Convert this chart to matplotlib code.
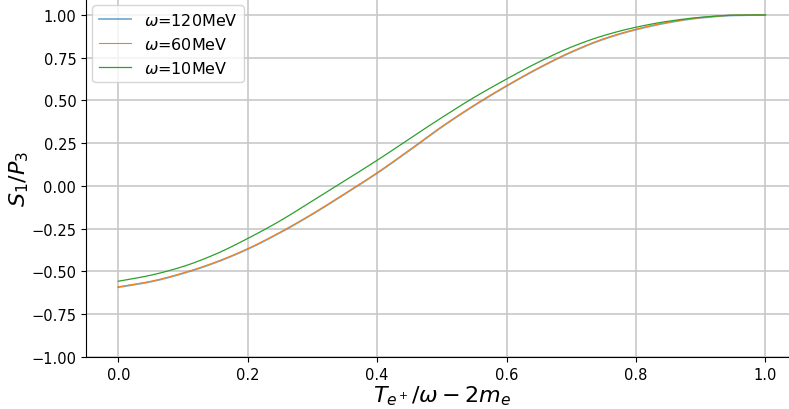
import matplotlib
matplotlib.use("Agg")
import matplotlib.pyplot as plt
import numpy as np

# Positron kinetic-energy fraction
x = [0.00, 0.05, 0.10, 0.15, 0.20, 0.25, 0.30, 0.35, 0.40, 0.45, 0.50,
     0.55, 0.60, 0.65, 0.70, 0.75, 0.80, 0.85, 0.90, 0.95, 1.00]

# S1/P3 for each photon energy
s_120 = [-0.592, -0.560, -0.511, -0.448, -0.369, -0.273, -0.165, -0.047,
         0.075, 0.208, 0.345, 0.470, 0.584, 0.689, 0.782, 0.858, 0.914,
         0.955, 0.983, 0.997, 1.000]
s_60 = [-0.590, -0.558, -0.509, -0.446, -0.367, -0.271, -0.163, -0.045,
        0.077, 0.210, 0.347, 0.472, 0.586, 0.691, 0.784, 0.860, 0.916,
        0.957, 0.984, 0.998, 1.000]
s_10 = [-0.557, -0.522, -0.471, -0.399, -0.307, -0.204, -0.087, 0.031,
        0.150, 0.276, 0.400, 0.518, 0.625, 0.725, 0.812, 0.879, 0.928,
        0.963, 0.986, 0.998, 1.000]

labels = [r"$\omega$=120MeV", r"$\omega$=60MeV", r"$\omega$=10MeV"]


def smooth_path(xs, ys, n=400):
    """Monotone cubic Hermite curve through the given points."""
    xs = np.asarray(xs, float)
    ys = np.asarray(ys, float)
    h = np.diff(xs)
    d = np.diff(ys) / h
    m = np.zeros_like(ys)
    m[0], m[-1] = d[0], d[-1]
    for i in range(1, len(xs) - 1):
        if d[i - 1] * d[i] <= 0:
            m[i] = 0.0
        else:
            w1 = 2 * h[i] + h[i - 1]
            w2 = h[i] + 2 * h[i - 1]
            m[i] = (w1 + w2) / (w1 / d[i - 1] + w2 / d[i])
    xf = np.linspace(xs[0], xs[-1], n)
    k = np.clip(np.searchsorted(xs, xf) - 1, 0, len(xs) - 2)
    t = (xf - xs[k]) / h[k]
    h00 = 2 * t**3 - 3 * t**2 + 1
    h10 = t**3 - 2 * t**2 + t
    h01 = -2 * t**3 + 3 * t**2
    h11 = t**3 - t**2
    yf = h00 * ys[k] + h10 * h[k] * m[k] + h01 * ys[k + 1] + h11 * h[k] * m[k + 1]
    return xf, yf


fig = plt.figure(figsize=(7.89, 4.10), dpi=100)
ax = fig.add_axes([86 / 789, 52 / 410, 711.7 / 789, 358 / 410])

ax.plot(*smooth_path(x, s_120), color="#1f77b4", lw=1.3, alpha=0.6, label=labels[0])
ax.plot(*smooth_path(x, s_60), color="#ff7f0e", lw=0.8, label=labels[1])
ax.plot(*smooth_path(x, s_10), color="#2ca02c", lw=0.9, label=labels[2])

ax.set_xlim(-0.05, 1.05)
ax.set_ylim(-1.0, 1.093)
ax.set_xticks([0.0, 0.2, 0.4, 0.6, 0.8, 1.0])
ax.set_yticks([-1.0, -0.75, -0.5, -0.25, 0.0, 0.25, 0.5, 0.75, 1.0])

ax.grid(True, color="#c8c8c8", lw=1.2)
ax.set_axisbelow(True)
ax.spines["top"].set_visible(False)
ax.spines["right"].set_visible(False)
ax.tick_params(labelsize=10.5)

ax.set_xlabel(r"$T_{e^+}/\omega-2m_e$", fontsize=16, labelpad=1)
ax.set_ylabel(r"$S_1/P_3$", fontsize=16, labelpad=0)

ax.legend(loc="upper left", fontsize=11.5, borderaxespad=0.4)

fig.savefig("out.png", dpi=100)
